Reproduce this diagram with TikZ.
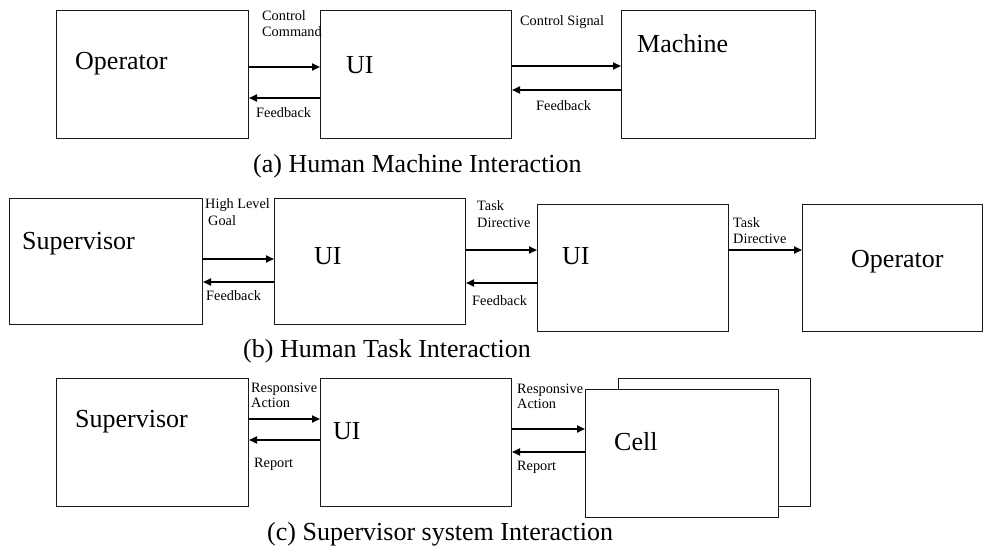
\documentclass[tikz,border=0pt]{standalone}
\usepackage{fontspec}
\setmainfont{Liberation Serif}
\usetikzlibrary{arrows.meta}
\tikzset{
  box/.style={draw=black!90, line width=1pt, fill=white, inner sep=0pt, anchor=north west},
  arr/.style={line width=1.7pt, -{Triangle[length=8pt,width=7pt]}},
  big/.style={anchor=base west, inner sep=0pt, font=\fontsize{26}{30}\selectfont},
  small/.style={anchor=base west, inner sep=0pt, font=\fontsize{14.3}{16}\selectfont},
  captext/.style={anchor=base west, inner sep=0pt, font=\fontsize{26}{30}\selectfont},
}
\begin{document}
\begin{tikzpicture}[x=1pt,y=-1pt]
\useasboundingbox[fill=white] (0,0) rectangle (984,548);
% ---------- (a) ----------
\node[box, minimum width=192pt, minimum height=128pt] (opA) at (56,10) {};
\node[box, minimum width=191pt, minimum height=128pt] (uiA) at (320,10) {};
\node[box, minimum width=194pt, minimum height=128pt] (maA) at (621,10) {};
\node[big] (tOpA) at (75,70) {Operator};
\node[big] (tUiA) at (346,74) {UI};
\node[big] (tMaA) at (637,53) {Machine};
\draw[arr] (opA.east |- 0,67) -- (uiA.west |- 0,67);
\draw[arr] (uiA.west |- 0,98) -- (opA.east |- 0,98);
\draw[arr] (uiA.east |- 0,66) -- (maA.west |- 0,66);
\draw[arr] (maA.west |- 0,90) -- (uiA.east |- 0,90);
\node[small] (lA1) at (262,21) {Control};
\node[small] (lA2) at (262,37) {Command};
\node[small] (lA3) at (256,118) {Feedback};
\node[small] (lA4) at (520,26) {Control Signal};
\node[small] (lA5) at (536,111) {Feedback};
\node[captext] (capA) at (253,172) {(a) Human Machine Interaction};
% ---------- (b) ----------
\node[box, minimum width=193pt, minimum height=126pt] (supB) at (9,198) {};
\node[box, minimum width=191pt, minimum height=126pt] (uiB1) at (274,198) {};
\node[box, minimum width=191pt, minimum height=127pt] (uiB2) at (537,204) {};
\node[box, minimum width=180pt, minimum height=127pt] (opB) at (802,204) {};
\node[big] (tSupB) at (22,249) {Supervisor};
\node[big] (tUiB1) at (314,264) {UI};
\node[big] (tUiB2) at (562,264) {UI};
\node[big] (tOpB) at (851,267) {Operator};
\draw[arr] (supB.east |- 0,259) -- (uiB1.west |- 0,259);
\draw[arr] (uiB1.west |- 0,282) -- (supB.east |- 0,282);
\draw[arr] (uiB1.east |- 0,250) -- (uiB2.west |- 0,250);
\draw[arr] (uiB2.west |- 0,283) -- (uiB1.east |- 0,283);
\draw[arr] (uiB2.east |- 0,250) -- (opB.west |- 0,250);
\node[small] (lB1) at (205,208) {High Level};
\node[small] (lB2) at (208,225) {Goal};
\node[small] (lB3) at (206,300) {Feedback};
\node[small] (lB4) at (477,210) {Task};
\node[small] (lB5) at (477,227) {Directive};
\node[small] (lB6) at (472,305) {Feedback};
\node[small] (lB7) at (733,227) {Task};
\node[small] (lB8) at (733,243) {Directive};
\node[captext] (capB) at (243,357) {(b) Human Task Interaction};
% ---------- (c) ----------
\node[box, minimum width=192pt, minimum height=128pt] (supC) at (56,378) {};
\node[box, minimum width=191pt, minimum height=128pt] (uiC) at (320,378) {};
\node[box, minimum width=192pt, minimum height=128pt] (cellBack) at (618,378) {};
\node[box, minimum width=193pt, minimum height=128pt] (cellC) at (585,389) {};
\node[big] (tSupC) at (75,427) {Supervisor};
\node[big] (tUiC) at (333,439) {UI};
\node[big] (tCellC) at (614,450) {Cell};
\draw[arr] (supC.east |- 0,419) -- (uiC.west |- 0,419);
\draw[arr] (uiC.west |- 0,440) -- (supC.east |- 0,440);
\draw[arr] (uiC.east |- 0,429) -- (cellC.west |- 0,429);
\draw[arr] (cellC.west |- 0,452) -- (uiC.east |- 0,452);
\node[small] (lC1) at (251,392) {Responsive};
\node[small] (lC2) at (251,407) {Action};
\node[small] (lC3) at (254,467) {Report};
\node[small] (lC4) at (517,393) {Responsive};
\node[small] (lC5) at (517,408) {Action};
\node[small] (lC6) at (517,470) {Report};
\node[captext] (capC) at (267,540) {(c) Supervisor system Interaction};
\end{tikzpicture}
\end{document}
